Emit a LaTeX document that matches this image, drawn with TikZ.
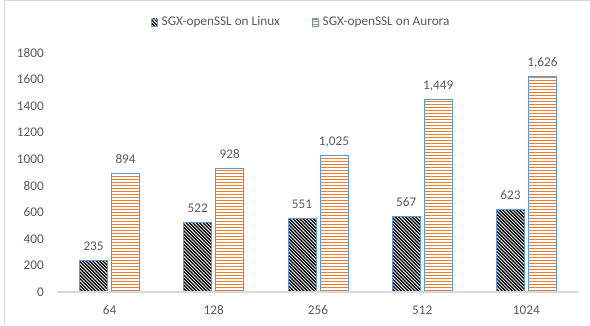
\documentclass[tikz,border=0pt]{standalone}
\usepackage{fontspec}
\setmainfont{Carlito}
\usepackage{tikz}
\usetikzlibrary{
    positioning
}
\definecolor{TextGray}{RGB}{89,89,89}
\definecolor{AxisGray}{RGB}{217,217,217}
\definecolor{FrameGray}{RGB}{217,217,217}
\definecolor{BarBlue}{RGB}{91,155,213}
\definecolor{BarOrange}{RGB}{237,125,49}

\begin{document}
\begin{tikzpicture}[
            x=1bp, y=1bp,
            font=\fontsize{13.3}{16}\selectfont,
            text=TextGray,
            linuxbar/.style={draw=BarBlue, line width=0.9bp, fill=white,
                path picture={\foreach \k in {0,3.4,...,340}
                    \draw[black, line width=1.3bp] ([xshift=\k bp]path picture bounding box.south west) -- ++(-300bp,300bp);}},
            aurorabar/.style={draw=BarBlue, line width=0.9bp, fill=white,
                path picture={\foreach \k in {1.5,4.5,...,250}
                    \draw[BarOrange, line width=1.5bp] ([yshift=\k bp]path picture bounding box.south west) -- ++(40bp,0);}},
            ylabel/.style={anchor=east, inner sep=0pt},
            xlabel/.style={inner sep=0pt},
            vallabel/.style={anchor=base, yshift=10bp, inner sep=0pt},
            legtext/.style={anchor=west, inner sep=0pt},
        ]
        \useasboundingbox (0,0) rectangle (590,325);

        % ===== Chart frame =====
        \draw[FrameGray, line width=1bp] (4.5,0) -- (4.5,324.5) -- (590,324.5);

        % ===== Legend =====
        \draw[linuxbar, line width=0.6bp] (151,299) rectangle (157,306);
        \node[legtext] (legLinux) at (161.5,302.5) {SGX-openSSL on Linux};
        \draw[aurorabar, line width=0.6bp] (312,299) rectangle (318,306);
        \node[legtext] (legAurora) at (322.5,302.5) {SGX-openSSL on Aurora};

        \begin{scope}[shift={(0,33)}, y=0.13278bp]

        % ===== Y axis labels =====
        \node[ylabel] (y0) at (44,0) {0};
        \node[ylabel] (y200) at (44,200) {200};
        \node[ylabel] (y400) at (44,400) {400};
        \node[ylabel] (y600) at (44,600) {600};
        \node[ylabel] (y800) at (44,800) {800};
        \node[ylabel] (y1000) at (44,1000) {1000};
        \node[ylabel] (y1200) at (44,1200) {1200};
        \node[ylabel] (y1400) at (44,1400) {1400};
        \node[ylabel] (y1600) at (44,1600) {1600};
        \node[ylabel] (y1800) at (44,1800) {1800};

        % ===== Bars: 64 =====
        \draw[linuxbar] (79.6,0) rectangle (107.6,235);
        \draw[aurorabar] (111.6,0) rectangle (139.6,894);
        \node[vallabel] (l64) at (93.6,235) {235};
        \node[vallabel] (a64) at (125.6,894) {894};

        % ===== Bars: 128 =====
        \draw[linuxbar] (183.8,0) rectangle (211.8,522);
        \draw[aurorabar] (215.8,0) rectangle (243.8,928);
        \node[vallabel] (l128) at (197.8,522) {522};
        \node[vallabel] (a128) at (229.8,928) {928};

        % ===== Bars: 256 =====
        \draw[linuxbar] (288,0) rectangle (316,551);
        \draw[aurorabar] (320,0) rectangle (348,1025);
        \node[vallabel] (l256) at (302,551) {551};
        \node[vallabel] (a256) at (334,1025) {1,025};

        % ===== Bars: 512 =====
        \draw[linuxbar] (392.2,0) rectangle (420.2,567);
        \draw[aurorabar] (424.2,0) rectangle (452.2,1449);
        \node[vallabel] (l512) at (406.2,567) {567};
        \node[vallabel] (a512) at (438.2,1449) {1,449};

        % ===== Bars: 1024 =====
        \draw[linuxbar] (496.4,0) rectangle (524.4,623);
        \draw[aurorabar] (528.4,0) rectangle (556.4,1626);
        \node[vallabel] (l1024) at (510.4,623) {623};
        \node[vallabel] (a1024) at (542.4,1626) {1,626};

        % ===== X axis =====
        \coordinate (axL) at (57,0);
        \coordinate (axR) at (578,0);
        \draw[AxisGray, line width=1.5bp] (axL) -- (axR);
        \end{scope}

        % ===== X axis labels =====
        \node[xlabel] (x64) at (109.6,15) {64};
        \node[xlabel] (x128) at (213.8,15) {128};
        \node[xlabel] (x256) at (318,15) {256};
        \node[xlabel] (x512) at (422.2,15) {512};
        \node[xlabel] (x1024) at (526.4,15) {1024};
        \end{tikzpicture}
\end{document}
